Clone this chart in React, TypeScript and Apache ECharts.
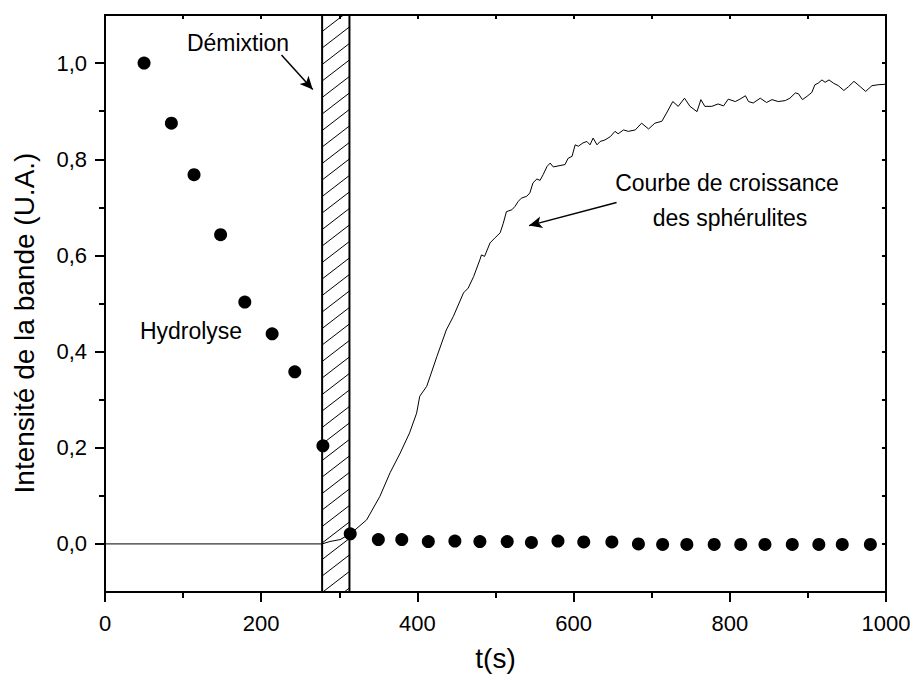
import React, { useEffect, useRef } from "react";
import * as echarts from "echarts";

// ---- data ----
const hydrolyseT = [50, 85, 114, 148, 179, 214, 243, 279, 314, 350, 380, 414, 448, 480, 515, 546, 580, 613, 649, 683, 714, 745, 780, 814, 845, 880, 914, 944, 980];
const hydrolyseY = [1.0, 0.875, 0.768, 0.643, 0.503, 0.437, 0.358, 0.204, 0.021, 0.009, 0.009, 0.005, 0.006, 0.005, 0.005, 0.003, 0.006, 0.004, 0.004, 0.0, -0.001, -0.001, -0.001, -0.001, -0.001, -0.001, -0.001, -0.001, -0.001];

const curveT = [0, 278, 288, 301, 313, 320, 335, 352, 365, 378, 390, 399, 403, 412, 425, 437, 446, 459, 465, 472, 480, 482, 486, 493, 499, 506, 510, 514, 521, 525, 529, 533, 540, 544, 548, 553, 557, 561, 566, 570, 574, 580, 589, 593, 598, 602, 606, 612, 617, 621, 625, 630, 634, 640, 647, 653, 657, 664, 670, 679, 687, 696, 704, 713, 719, 727, 734, 742, 749, 758, 763, 768, 777, 785, 792, 798, 807, 813, 820, 824, 830, 839, 847, 854, 862, 871, 877, 884, 888, 893, 899, 905, 909, 913, 918, 922, 927, 933, 939, 946, 952, 959, 967, 974, 982, 990, 999];
const curveY = [0, 0, 0.005, 0.009, 0.02, 0.029, 0.05, 0.099, 0.148, 0.189, 0.231, 0.272, 0.307, 0.328, 0.39, 0.445, 0.473, 0.522, 0.532, 0.556, 0.591, 0.601, 0.598, 0.626, 0.636, 0.647, 0.667, 0.691, 0.695, 0.702, 0.712, 0.719, 0.723, 0.73, 0.751, 0.759, 0.756, 0.768, 0.785, 0.792, 0.784, 0.786, 0.789, 0.802, 0.806, 0.83, 0.827, 0.834, 0.837, 0.83, 0.844, 0.83, 0.837, 0.84, 0.847, 0.858, 0.853, 0.861, 0.858, 0.861, 0.875, 0.863, 0.875, 0.879, 0.896, 0.92, 0.91, 0.927, 0.91, 0.899, 0.924, 0.91, 0.91, 0.915, 0.911, 0.925, 0.92, 0.925, 0.932, 0.92, 0.917, 0.927, 0.918, 0.924, 0.92, 0.922, 0.927, 0.938, 0.936, 0.924, 0.931, 0.939, 0.955, 0.958, 0.965, 0.96, 0.965, 0.958, 0.953, 0.943, 0.951, 0.962, 0.951, 0.941, 0.953, 0.955, 0.956];

const demixRange = [278, 313];
const xRange = [0, 1000];
const yRange = [-0.1, 1.1];
const yLabelValues = [0, 0.2, 0.4, 0.6, 0.8, 1.0];
const yMinorValues = [0.1, 0.3, 0.5, 0.7, 0.9];
const arrowDemix = [[226, 1.017], [266, 0.945]];
const arrowCourbe = [[655, 0.71], [543, 0.662]];

const FONT = 'Arial, "Liberation Sans", Helvetica, sans-serif';

export default function App() {
  const ref = useRef<HTMLDivElement>(null);
  useEffect(() => {
    document.body.style.margin = "0";
    const chart = echarts.init(ref.current!, undefined, { renderer: "svg" });
    const curve = curveT.map((t, i) => [t, curveY[i]]);
    const dots = hydrolyseT.map((t, i) => [t, hydrolyseY[i]]);
    const mkLine = () => ({ show: true, onZero: false, lineStyle: { color: "#000000", width: 2, opacity: 1 } });
    const mkTick = (len: number, inside: boolean, extra: any = {}) => ({
      show: true, inside, length: len, ...extra,
      lineStyle: { color: "#000000", width: 2, opacity: 1 },
    });
    const option: any = {
      animation: false,
      backgroundColor: "#fff",
      grid: { left: 105, right: 29, top: 15, bottom: 88, containLabel: false },
      xAxis: [
        {
          type: "value", min: xRange[0], max: xRange[1], interval: 200, position: "bottom",
          axisLine: mkLine(),
          axisTick: mkTick(10, false),
          minorTick: { show: true, splitNumber: 2, length: 6, lineStyle: { color: "#000000", width: 2, opacity: 1 } },
          axisLabel: { color: "#000", fontSize: 22, fontFamily: FONT, margin: 20, formatter: (v: number) => String(v) },
          splitLine: { show: false },
          name: "t(s)", nameLocation: "middle", nameGap: 52,
          nameTextStyle: { color: "#000", fontSize: 28, fontFamily: FONT },
        },
        {
          type: "value", position: "top", min: xRange[0], max: xRange[1], interval: 100,
          axisLine: mkLine(),
          axisTick: mkTick(4, true),
          axisLabel: { show: false }, splitLine: { show: false },
        },
      ],
      yAxis: [
        {
          type: "value", min: yRange[0], max: yRange[1], position: "left",
          axisLine: mkLine(),
          axisTick: mkTick(10, false, { customValues: yLabelValues }),
          axisLabel: {
            color: "#000", fontSize: 22, fontFamily: FONT, margin: 18,
            customValues: yLabelValues,
            formatter: (v: number) => v.toFixed(1).replace(".", ","),
          },
          splitLine: { show: false },
        },
        {
          type: "value", position: "left", min: yRange[0], max: yRange[1],
          axisLine: { show: false, onZero: false },
          axisTick: mkTick(6, false, { customValues: yMinorValues }),
          axisLabel: { show: false }, splitLine: { show: false },
        },
        {
          type: "value", position: "right", min: yRange[0], max: yRange[1], interval: 0.1,
          axisLine: mkLine(),
          axisTick: mkTick(4, true),
          axisLabel: { show: false }, splitLine: { show: false },
        },
      ],
      graphic: [
        { type: "text", x: 238, y: 43, style: { text: "Démixtion", font: `23px ${FONT}`, fill: "#000", textAlign: "center", textVerticalAlign: "middle" } },
        { type: "text", x: 191, y: 331, style: { text: "Hydrolyse", font: `23px ${FONT}`, fill: "#000", textAlign: "center", textVerticalAlign: "middle" } },
        { type: "text", x: 727, y: 183, style: { text: "Courbe de croissance", font: `23px ${FONT}`, fill: "#000", textAlign: "center", textVerticalAlign: "middle" } },
        { type: "text", x: 730, y: 218, style: { text: "des sphérulites", font: `23px ${FONT}`, fill: "#000", textAlign: "center", textVerticalAlign: "middle" } },
        { type: "text", x: 24, y: 323, rotation: Math.PI / 2, style: { text: "Intensité de la bande (U.A.)", font: `28px ${FONT}`, fill: "#000", textAlign: "center", textVerticalAlign: "middle" } },
      ],
      series: [
        {
          type: "custom",
          coordinateSystem: "cartesian2d",
          clip: false,
          z: 1,
          data: [[demixRange[0], demixRange[1]]],
          renderItem: (params: any, api: any) => {
            const x0 = api.value(0), x1 = api.value(1);
            const pTL = api.coord([x0, yRange[1]]);
            const pBR = api.coord([x1, yRange[0]]);
            const L = pTL[0], T = pTL[1], R = pBR[0], B = pBR[1];
            const w = R - L;
            const rise = w * 0.77;
            const step = 16.5;
            const children: any[] = [];
            for (let yk = T; yk < B + rise; yk += step) {
              const t0 = Math.max(0, (yk - B) / rise);
              const t1 = Math.min(1, (yk - T) / rise);
              if (t0 < t1) {
                children.push({
                  type: "line",
                  shape: { x1: L + w * t0, y1: yk - rise * t0, x2: L + w * t1, y2: yk - rise * t1 },
                  style: { stroke: "#000", lineWidth: 1 },
                });
              }
            }
            children.push({
              type: "rect",
              shape: { x: L, y: T, width: w, height: B - T },
              style: { fill: "none", stroke: "#000", lineWidth: 2 },
            });
            return { type: "group", children };
          },
        },
        {
          type: "custom",
          coordinateSystem: "cartesian2d",
          clip: false,
          z: 10,
          silent: true,
          data: [[xRange[0], yRange[1], xRange[1], yRange[0]]],
          renderItem: (params: any, api: any) => {
            const a = api.coord([api.value(0), api.value(1)]);
            const b = api.coord([api.value(2), api.value(3)]);
            return {
              type: "rect",
              shape: { x: Math.round(a[0]), y: Math.round(a[1]), width: Math.round(b[0] - a[0]), height: Math.round(b[1] - a[1]) },
              style: { fill: "none", stroke: "#000", lineWidth: 2 },
            };
          },
        },
        {
          type: "line",
          data: curve,
          symbol: "none",
          z: 3,
          lineStyle: { color: "#000", width: 1 },
          markLine: {
            silent: true,
            symbol: ["none", "arrow"],
            symbolSize: [9, 13],
            label: { show: false },
            lineStyle: { color: "#000", width: 1.5, type: "solid" },
            data: [
              [{ coord: arrowDemix[0] }, { coord: arrowDemix[1] }],
              [{ coord: arrowCourbe[0] }, { coord: arrowCourbe[1] }],
            ],
          },
        },
        {
          type: "scatter",
          data: dots,
          symbol: "circle",
          symbolSize: 13,
          z: 4,
          itemStyle: { color: "#000", opacity: 1 },
        },
      ],
    };
    chart.setOption(option);
    return () => chart.dispose();
  }, []);
  return <div ref={ref} style={{ width: 915, height: 680 }} />;
}
